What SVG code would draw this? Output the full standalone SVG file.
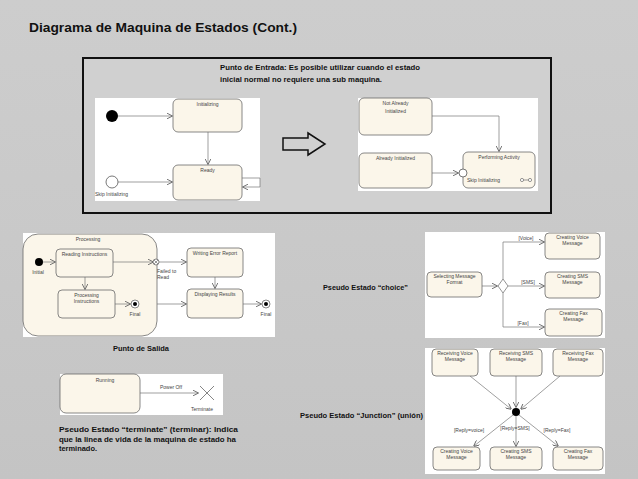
<svg xmlns="http://www.w3.org/2000/svg" width="638" height="479" viewBox="0 0 638 479">
<defs>
<linearGradient id="bg" x1="0" y1="0" x2="0" y2="1">
<stop offset="0" stop-color="#cdcdcd"/><stop offset="0.5" stop-color="#c9c9c9"/><stop offset="1" stop-color="#c4c4c4"/>
</linearGradient>
<marker id="ah" viewBox="0 0 10 10" refX="9" refY="5" markerWidth="6" markerHeight="6" markerUnits="userSpaceOnUse" orient="auto">
<path d="M0,0 L10,5 L0,10" fill="none" stroke="#666" stroke-width="1.5"/>
</marker>
</defs>
<style>
.st{fill:#fbf6ea;stroke:#6a6a6a;stroke-width:0.8}
.pn{fill:#ffffff}
.ln{fill:none;stroke:#777;stroke-width:0.7}
.ar{fill:none;stroke:#777;stroke-width:0.7;marker-end:url(#ah)}
.u{font-family:"Liberation Sans",Arial,sans-serif;font-size:5px;fill:#444;text-anchor:middle}
.us{font-family:"Liberation Sans",Arial,sans-serif;font-size:5px;fill:#444}
.t{font-family:"Liberation Sans",Arial,sans-serif;font-weight:bold;font-size:7.5px;fill:#111}
.h{font-family:"Liberation Sans",Arial,sans-serif;font-weight:bold;font-size:12.5px;fill:#111}
</style>
<rect x="0" y="0" width="638" height="479" fill="url(#bg)"/>
<text class="h" x="29" y="32" textLength="268" lengthAdjust="spacingAndGlyphs">Diagrama de Maquina de Estados (Cont.)</text>

<g id="entry-frame">
<rect x="83" y="58" width="468" height="155" fill="#d0d0d0" stroke="#111" stroke-width="2"/>
<text class="t" x="220" y="70" textLength="200" lengthAdjust="spacingAndGlyphs">Punto de Entrada: Es posible utilizar cuando el estado</text>
<text class="t" x="220" y="81.5" textLength="162" lengthAdjust="spacingAndGlyphs">inicial normal no requiere una sub maquina.</text>
</g>

<g id="entry-left">
<rect class="pn" x="95" y="98" width="165" height="103"/>
<g class="ar-group">
<line class="ar" x1="118" y1="116" x2="172" y2="116"/>
<line class="ar" x1="208" y1="132" x2="208" y2="164"/>
<line class="ar" x1="118" y1="182" x2="172" y2="182"/>
<path class="ar" d="M242,178 H260 V187 H243"/>
</g>
<circle cx="112" cy="116" r="6" fill="#000"/>
<circle cx="112" cy="182" r="6" fill="#fff" stroke="#555" stroke-width="0.8"/>
<g id="initializing"><rect class="st" x="173" y="99" width="69" height="33" rx="5"/><text class="u" x="207.5" y="106">Initializing</text></g>
<g id="ready"><rect class="st" x="173" y="165" width="69" height="35" rx="5"/><text class="u" x="207.5" y="172">Ready</text></g>
<text class="us" x="95" y="196">Skip Initializing</text>
</g>

<g id="big-arrow">
<polygon points="283,138 308,138 308,133 325,144 308,155 308,150 283,150" fill="none" stroke="#111" stroke-width="1.5" stroke-linejoin="miter"/>
</g>

<g id="entry-right">
<rect class="pn" x="358" y="98" width="180" height="93"/>
<path class="ar" d="M432,116 H499 V151"/>
<line class="ar" x1="432" y1="173" x2="458" y2="173"/>
<g id="not-already"><rect class="st" x="359" y="98" width="73" height="37" rx="5"/><text class="u" x="395.5" y="105">Not Already</text><text class="u" x="395.5" y="113">Initialized</text></g>
<g id="already"><rect class="st" x="359" y="153" width="73" height="35" rx="5"/><text class="u" x="395.5" y="160">Already Initialized</text></g>
<g id="performing"><rect class="st" x="463" y="152" width="72" height="36" rx="5"/><text class="u" x="499" y="159">Performing Activity</text><text class="us" x="467" y="182">Skip Initializing</text>
<circle cx="522" cy="180" r="1.6" fill="#fff" stroke="#555" stroke-width="0.6"/><circle cx="530" cy="180" r="1.6" fill="#fff" stroke="#555" stroke-width="0.6"/><line x1="523.6" y1="180" x2="528.4" y2="180" stroke="#555" stroke-width="0.6"/></g>
<circle cx="463" cy="173" r="4" fill="#fff" stroke="#555" stroke-width="0.8"/>
</g>

<g id="exit-panel">
<rect class="pn" x="23" y="233" width="252" height="104"/>
<rect class="st" x="23" y="234" width="134" height="102" rx="15"/>
<text class="u" x="88" y="241">Processing</text>
<g class="connectors">
<line class="ar" x1="43" y1="262" x2="55" y2="262"/>
<line class="ar" x1="85" y1="277" x2="85" y2="289"/>
<line class="ar" x1="115" y1="304" x2="130" y2="304"/>
<line class="ar" x1="113" y1="262" x2="153" y2="262"/>
<line class="ar" x1="159" y1="262" x2="186" y2="262"/>
<line class="ar" x1="215" y1="277" x2="215" y2="288"/>
<line class="ar" x1="157" y1="304" x2="186" y2="304"/>
<line class="ar" x1="243" y1="304" x2="261" y2="304"/>
</g>
<circle cx="39" cy="262" r="4" fill="#000"/><text class="u" x="38" y="274">Initial</text>
<g id="reading"><rect class="st" x="56" y="249" width="57" height="28" rx="4"/><text class="u" x="84.5" y="256">Reading Instructions</text></g>
<g id="processing-instr"><rect class="st" x="58" y="290" width="57" height="28" rx="4"/><text class="u" x="86.5" y="297">Processing</text><text class="u" x="86.5" y="303">Instructions</text></g>
<circle cx="135" cy="304" r="4" fill="#fff" stroke="#555" stroke-width="0.7"/><circle cx="135" cy="304" r="2" fill="#000"/><text class="u" x="135" y="316">Final</text>
<circle cx="156" cy="262" r="3" fill="#fff" stroke="#555" stroke-width="0.7"/>
<path d="M154,260 L158,264 M158,260 L154,264" stroke="#555" stroke-width="0.6"/>
<text class="us" x="157" y="273">Failed to</text><text class="us" x="157" y="279">Read</text>
<g id="writing"><rect class="st" x="187" y="248" width="56" height="29" rx="4"/><text class="u" x="215" y="255">Writing Error Report</text></g>
<g id="displaying"><rect class="st" x="187" y="289" width="56" height="29" rx="4"/><text class="u" x="215" y="296">Displaying Results</text></g>
<circle cx="266" cy="304" r="4" fill="#fff" stroke="#555" stroke-width="0.7"/><circle cx="266" cy="304" r="2" fill="#000"/><text class="u" x="266" y="316">Final</text>
</g>
<text class="t" x="113" y="351" textLength="56" lengthAdjust="spacingAndGlyphs">Punto de Salida</text>

<g id="choice-panel">
<rect class="pn" x="425" y="232" width="180" height="106"/>
<g class="connectors">
<line class="ar" x1="482" y1="286" x2="497" y2="286"/>
<path class="ar" d="M503,279 V242 H544"/>
<path class="ar" d="M503,293 V327 H544"/>
<line class="ar" x1="508" y1="286" x2="544" y2="286"/>
</g>
<polygon points="503,279 508,286 503,293 498,286" fill="#fff" stroke="#666" stroke-width="0.7"/>
<text class="u" x="526" y="240">[Voice]</text>
<text class="u" x="528" y="284">[SMS]</text>
<text class="u" x="523" y="325">[Fax]</text>
<g id="selecting"><rect class="st" x="427" y="272" width="55" height="25" rx="4"/><text class="u" x="454.5" y="278">Selecting Message</text><text class="u" x="454.5" y="284">Format</text></g>
<g id="c-voice"><rect class="st" x="545" y="233" width="55" height="26" rx="4"/><text class="u" x="572.5" y="239">Creating Voice</text><text class="u" x="572.5" y="245">Message</text></g>
<g id="c-sms"><rect class="st" x="545" y="272" width="55" height="26" rx="4"/><text class="u" x="572.5" y="278">Creating SMS</text><text class="u" x="572.5" y="284">Message</text></g>
<g id="c-fax"><rect class="st" x="545" y="309" width="57" height="27" rx="4"/><text class="u" x="573.5" y="315">Creating Fax</text><text class="u" x="573.5" y="321">Message</text></g>
</g>
<text class="t" x="323" y="290" textLength="85" lengthAdjust="spacingAndGlyphs">Pseudo Estado “choice”</text>

<g id="junction-panel">
<rect class="pn" x="425" y="348" width="180" height="126"/>
<g class="connectors">
<line class="ar" x1="470" y1="376" x2="511" y2="409"/>
<line class="ar" x1="516" y1="376" x2="516" y2="407"/>
<line class="ar" x1="560" y1="376" x2="521" y2="409"/>
<line class="ar" x1="513" y1="415" x2="474" y2="446"/>
<line class="ar" x1="516" y1="416" x2="516" y2="446"/>
<line class="ar" x1="519" y1="415" x2="558" y2="446"/>
</g>
<circle cx="516" cy="412" r="4" fill="#000"/>
<text class="u" x="469" y="432">[Reply=voice]</text>
<text class="u" x="515" y="430">[Reply=SMS]</text>
<text class="u" x="557" y="432">[Reply=Fax]</text>
<g id="r-voice"><rect class="st" x="432" y="349" width="46" height="27" rx="4"/><text class="u" x="455" y="355">Receiving Voice</text><text class="u" x="455" y="361">Message</text></g>
<g id="r-sms"><rect class="st" x="490" y="349" width="52" height="27" rx="4"/><text class="u" x="516" y="355">Receiving SMS</text><text class="u" x="516" y="361">Message</text></g>
<g id="r-fax"><rect class="st" x="553" y="349" width="50" height="27" rx="4"/><text class="u" x="578" y="355">Receiving Fax</text><text class="u" x="578" y="361">Message</text></g>
<g id="j-voice"><rect class="st" x="433" y="447" width="47" height="23" rx="4"/><text class="u" x="456.5" y="453">Creating Voice</text><text class="u" x="456.5" y="459">Message</text></g>
<g id="j-sms"><rect class="st" x="490" y="447" width="52" height="23" rx="4"/><text class="u" x="516" y="453">Creating SMS</text><text class="u" x="516" y="459">Message</text></g>
<g id="j-fax"><rect class="st" x="553" y="447" width="50" height="23" rx="4"/><text class="u" x="578" y="453">Creating Fax</text><text class="u" x="578" y="459">Message</text></g>
</g>
<text class="t" x="300" y="418" textLength="123" lengthAdjust="spacingAndGlyphs">Pseudo Estado “Junction” (unión)</text>

<g id="terminate-panel">
<rect class="pn" x="60" y="374" width="163" height="41"/>
<line class="ar" x1="140" y1="393" x2="198" y2="393"/>
<g id="running"><rect class="st" x="60" y="374" width="80" height="39" rx="6"/><text class="u" x="105" y="382">Running</text></g>
<text class="u" x="171" y="389">Power Off</text>
<path d="M200,386 L214,400 M214,386 L200,400" stroke="#666" stroke-width="0.8"/>
<text class="us" x="191" y="411">Terminate</text>
</g>
<text class="t" x="59" y="432" textLength="179" lengthAdjust="spacingAndGlyphs">Pseudo  Estado  “terminate”  (terminar):  Indica</text>
<text class="t" x="59" y="441.5" textLength="177" lengthAdjust="spacingAndGlyphs">que la linea de vida de la maquina de estado ha</text>
<text class="t" x="59" y="451" textLength="38" lengthAdjust="spacingAndGlyphs">terminado.</text>
</svg>
